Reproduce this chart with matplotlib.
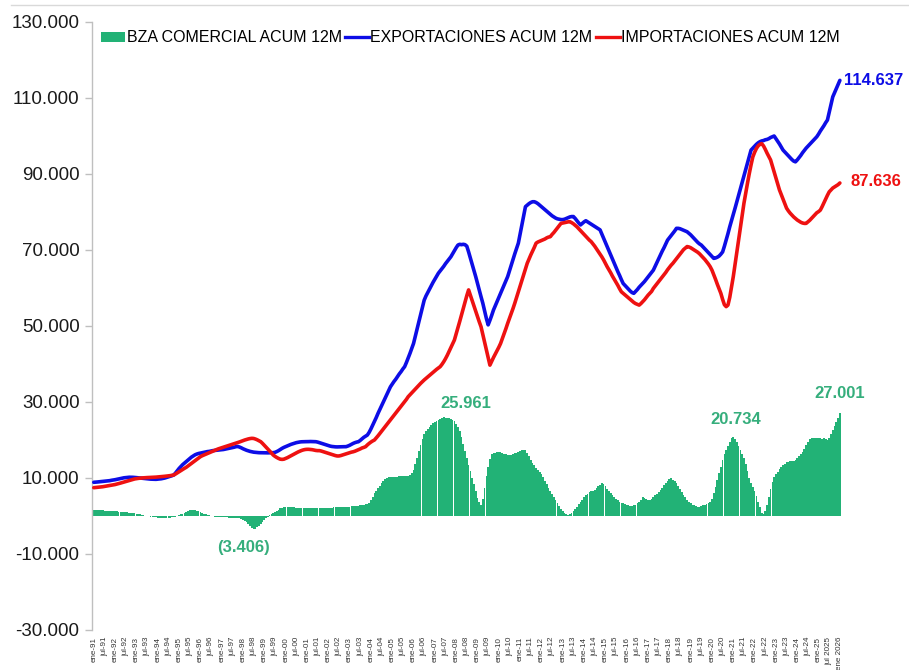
import matplotlib
matplotlib.use('Agg')
import matplotlib.pyplot as plt
from matplotlib import font_manager as fm
from matplotlib.patches import Patch
from matplotlib.lines import Line2D
from matplotlib.ticker import FuncFormatter
import numpy as np

# ---------------- data (US$ millones, acumulado 12 meses, ene-1991 .. ene-2026) ----------------
exports = [
    8870, 8900, 8950, 9000, 9050, 9100, 9150, 9200, 9250, 9300, 9400, 9470,          # 1991
    9550, 9650, 9750, 9850, 9950, 10050, 10100, 10150, 10200, 10200, 10180, 10150,   # 1992
    10100, 10050, 10000, 9950, 9900, 9850, 9800, 9750, 9700, 9680, 9650, 9650,       # 1993
    9700, 9750, 9800, 9900, 10000, 10150, 10300, 10450, 10600, 10790, 11300, 11900,  # 1994
    12500, 13000, 13500, 13900, 14300, 14700, 15100, 15500, 15800, 16100, 16300, 16450,  # 1995
    16550, 16650, 16750, 16850, 16950, 17000, 17100, 17200, 17250, 17300, 17350, 17400,  # 1996
    17450, 17500, 17600, 17700, 17800, 17900, 18000, 18100, 18240, 18300, 18150, 17950,  # 1997
    17700, 17500, 17300, 17150, 17000, 16900, 16800, 16750, 16700, 16660, 16650, 16640,  # 1998
    16620, 16600, 16620, 16640, 16650, 16660, 16750, 16950, 17200, 17500, 17800, 18050,  # 1999
    18240, 18450, 18650, 18850, 19000, 19150, 19300, 19400, 19480, 19530, 19550, 19560,  # 2000
    19560, 19580, 19600, 19580, 19560, 19550, 19450, 19300, 19150, 19000, 18850, 18700,  # 2001
    18550, 18400, 18300, 18240, 18200, 18180, 18200, 18220, 18240, 18240, 18240, 18400,  # 2002
    18600, 18850, 19100, 19300, 19450, 19550, 19900, 20300, 20700, 21000, 21300, 22000,  # 2003
    22900, 23900, 24900, 25900, 27000, 28000, 29000, 30000, 31000, 32000, 33000, 34000,  # 2004
    34700, 35400, 36000, 36700, 37400, 38000, 38700, 39300, 40400, 41600, 42800, 44100,  # 2005
    45400, 47300, 49200, 51100, 53000, 54900, 56800, 57900, 58800, 59700, 60600, 61500,  # 2006
    62300, 63100, 63900, 64500, 65100, 65700, 66400, 67000, 67600, 68200, 69000, 69800,  # 2007
    70600, 71300, 71500, 71400, 71500, 71400, 71000, 69500, 67900, 66300, 64700, 63000,  # 2008
    61200, 59500, 57700, 56000, 54000, 52000, 50300, 51500, 52800, 54200, 55300, 56400,  # 2009
    57500, 58600, 59700, 60800, 61900, 63000, 64500, 66000, 67500, 69000, 70400, 71800,  # 2010
    74200, 76600, 79000, 81400, 81800, 82200, 82500, 82700, 82700, 82500, 82200, 81800,  # 2011
    81400, 81000, 80600, 80200, 79800, 79400, 79000, 78700, 78400, 78200, 78100, 78000,  # 2012
    78000, 78100, 78300, 78500, 78700, 78800, 78800, 78300, 77700, 77100, 76600, 77000,  # 2013
    77400, 77700, 77400, 77100, 76800, 76500, 76200, 75900, 75600, 75300, 74200, 73100,  # 2014
    72000, 70900, 69800, 68700, 67600, 66500, 65400, 64300, 63300, 62200, 61200, 60700,  # 2015
    60200, 59700, 59200, 58800, 58600, 59100, 59600, 60200, 60700, 61200, 61700, 62300,  # 2016
    62900, 63500, 64100, 64700, 65700, 66700, 67700, 68700, 69700, 70600, 71600, 72600,  # 2017
    73200, 73800, 74400, 75000, 75700, 75700, 75600, 75400, 75200, 75000, 74800, 74400,  # 2018
    74000, 73500, 73000, 72500, 72000, 71600, 71300, 70800, 70300, 69800, 69300, 68800,  # 2019
    68300, 67800, 67900, 68100, 68400, 68900, 69500, 71000, 72600, 74300, 76100, 77700,  # 2020
    79400, 81000, 82700, 84300, 86000, 87800, 89500, 91200, 92900, 94600, 96300, 96800,  # 2021
    97300, 97800, 98200, 98500, 98700, 98800, 99000, 99100, 99300, 99600, 99800, 100000,  # 2022
    99300, 98600, 97900, 97100, 96300, 95800, 95300, 94800, 94300, 93800, 93400, 93200,  # 2023
    93700, 94300, 94900, 95600, 96200, 96800, 97300, 97800, 98300, 98800, 99300, 99800,  # 2024
    100500, 101300, 102000, 102700, 103500, 104200, 106200, 108200, 110300, 111400, 112500, 113600,  # 2025
    114637,  # ene-2026
]

imports = [
    7450, 7500, 7550, 7600, 7650, 7700, 7780, 7860, 7940, 8020, 8090, 8160,          # 1991
    8280, 8400, 8530, 8660, 8800, 8940, 9080, 9220, 9360, 9500, 9650, 9750,          # 1992
    9830, 9900, 9960, 10010, 10050, 10080, 10110, 10140, 10160, 10180, 10200, 10230,  # 1993
    10270, 10310, 10350, 10400, 10450, 10500, 10560, 10620, 10700, 10790, 11050, 11350,  # 1994
    11650, 11950, 12250, 12530, 12800, 13150, 13500, 13850, 14200, 14550, 14900, 15250,  # 1995
    15600, 15850, 16050, 16250, 16450, 16650, 16850, 17050, 17250, 17450, 17650, 17800,  # 1996
    17950, 18100, 18250, 18400, 18550, 18700, 18850, 19000, 19130, 19300, 19480, 19660,  # 1997
    19840, 20000, 20150, 20280, 20380, 20440, 20400, 20250, 20050, 19800, 19550, 19100,  # 1998
    18600, 18100, 17600, 17100, 16600, 16050, 15700, 15400, 15150, 14950, 14900, 14950,  # 1999
    15150, 15350, 15600, 15850, 16100, 16350, 16600, 16850, 17050, 17250, 17400, 17500,  # 2000
    17550, 17550, 17500, 17450, 17350, 17250, 17200, 17200, 17100, 16950, 16800, 16650,  # 2001
    16500, 16350, 16200, 16050, 15900, 15800, 15800, 15900, 16050, 16200, 16350, 16500,  # 2002
    16650, 16800, 16900, 17050, 17250, 17450, 17650, 17900, 18050, 18240, 18700, 19100,  # 2003
    19450, 19750, 20000, 20550, 21100, 21700, 22300, 22900, 23500, 24100, 24700, 25300,  # 2004
    25900, 26500, 27100, 27700, 28300, 28900, 29500, 30100, 30700, 31400, 31900, 32400,  # 2005
    32900, 33400, 33900, 34400, 34900, 35350, 35800, 36200, 36600, 37000, 37400, 37800,  # 2006
    38200, 38600, 38950, 39300, 39900, 40600, 41400, 42300, 43300, 44300, 45300, 46300,  # 2007
    47900, 49500, 51200, 52900, 54600, 56300, 58000, 59500, 58100, 56700, 55300, 53900,  # 2008
    52500, 51100, 49800, 47800, 45800, 43800, 41700, 39700, 40700, 41700, 42600, 43500,  # 2009
    44400, 45400, 46700, 48000, 49300, 50700, 52000, 53300, 54600, 56000, 57500, 59000,  # 2010
    60500, 62000, 63500, 65000, 66500, 67600, 68700, 69700, 70700, 71800, 72100, 72300,  # 2011
    72500, 72700, 72900, 73200, 73400, 73500, 74100, 74600, 75200, 75800, 76400, 77000,  # 2012
    77100, 77200, 77300, 77400, 77450, 77200, 76900, 76500, 76100, 75600, 75100, 74600,  # 2013
    74100, 73600, 73100, 72600, 72200, 71600, 71000, 70300, 69600, 68900, 68200, 67400,  # 2014
    66500, 65600, 64800, 64000, 63100, 62300, 61500, 60700, 59800, 59000, 58600, 58200,  # 2015
    57800, 57400, 57000, 56600, 56200, 55900, 55700, 55500, 55900, 56400, 56900, 57500,  # 2016
    58100, 58600, 59100, 59900, 60500, 61100, 61700, 62300, 62900, 63500, 64100, 64800,  # 2017
    65400, 66000, 66500, 67100, 67700, 68300, 68900, 69500, 70100, 70500, 70900, 70800,  # 2018
    70600, 70300, 70000, 69700, 69400, 69000, 68500, 68000, 67500, 66900, 66300, 65600,  # 2019
    64700, 63500, 62300, 61000, 59800, 58600, 57000, 55600, 55100, 55500, 57500, 60200,  # 2020
    63000, 66200, 69500, 72800, 76000, 79200, 82300, 85000, 87600, 90100, 92400, 94500,  # 2021
    95700, 96700, 97400, 97800, 98000, 97400, 96500, 95500, 94600, 93700, 92100, 90500,  # 2022
    88900, 87400, 85800, 84600, 83400, 82200, 81000, 80300, 79700, 79200, 78700, 78300,  # 2023
    77900, 77600, 77300, 77100, 77000, 77000, 77400, 77800, 78300, 78800, 79300, 79800,  # 2024
    80100, 80500, 81400, 82400, 83400, 84400, 85300, 85800, 86300, 86600, 86900, 87200,  # 2025
    87636,  # ene-2026
]

balance = [
    1450, 1480, 1500, 1480, 1460, 1450, 1430, 1400, 1380, 1350, 1330, 1300,          # 1991
    1260, 1220, 1180, 1140, 1100, 1050, 1000, 950, 880, 810, 740, 670,               # 1992
    600, 500, 400, 300, 200, 100, 0, -100, -180, -250, -300, -350,                    # 1993
    -400, -430, -450, -460, -470, -460, -450, -400, -330, -250, -150, 0,             # 1994
    200, 400, 600, 900, 1150, 1400, 1550, 1600, 1600, 1500, 1350, 1200,               # 1995
    1000, 800, 600, 450, 300, 150, 0, -100, -200, -250, -300, -350,                   # 1996
    -300, -320, -350, -380, -400, -420, -450, -480, -500, -550, -650, -800,          # 1997
    -1000, -1300, -1700, -2200, -2700, -3100, -3406, -3300, -3000, -2600, -2100, -1600,  # 1998
    -1100, -650, -250, 150, 500, 800, 1100, 1400, 1700, 2000, 2200, 2350,            # 1999
    2400, 2450, 2400, 2350, 2300, 2250, 2200, 2150, 2100, 2100, 2100, 2100,           # 2000
    2100, 2100, 2100, 2100, 2100, 2100, 2050, 2000, 2000, 2000, 2000, 2050,           # 2001
    2100, 2150, 2200, 2250, 2300, 2300, 2350, 2350, 2400, 2400, 2400, 2450,           # 2002
    2500, 2550, 2600, 2650, 2650, 2700, 2800, 2900, 3000, 3100, 3200, 3300,           # 2003
    4200, 5100, 6000, 6700, 7400, 8000, 8600, 9200, 9700, 10000, 10200, 10300,        # 2004
    10300, 10300, 10300, 10350, 10400, 10450, 10500, 10550, 10600, 10650, 10800, 11400,  # 2005
    12000, 13700, 15300, 17000, 18600, 20200, 21700, 22400, 23000, 23500, 24000, 24400,  # 2006
    24700, 25000, 25300, 25600, 25800, 25961, 25900, 25800, 25700, 25500, 25300, 25000,  # 2007
    24300, 23500, 22300, 20800, 19000, 17000, 15200, 13500, 11800, 10000, 8300, 6500,    # 2008
    4800, 3600, 3000, 4500, 7500, 10500, 13000, 15000, 16300, 16500, 16700, 16800,       # 2009
    16900, 16800, 16600, 16400, 16200, 16100, 16000, 16100, 16300, 16500, 16700, 16900,  # 2010
    17100, 17300, 17500, 17300, 16600, 15700, 14700, 14000, 13300, 12700, 12200, 11700,  # 2011
    11000, 10200, 9300, 8400, 7500, 6700, 5900, 5000, 4200, 3400, 2600, 1800,            # 2012
    1200, 700, 400, 300, 400, 800, 1300, 1900, 2500, 3100, 3700, 4300,                   # 2013
    5000, 5400, 5800, 6200, 6500, 6700, 6900, 7300, 7800, 8200, 8600, 8300,              # 2014
    7800, 7200, 6600, 6000, 5500, 5000, 4600, 4200, 3800, 3500, 3300, 3100,              # 2015
    2900, 2800, 2700, 2750, 2800, 3000, 3300, 3700, 4300, 5000, 4800, 4500,              # 2016
    4200, 4300, 4600, 5000, 5400, 5900, 6400, 6900, 7500, 8100, 8700, 9300,              # 2017
    9700, 9900, 9600, 9200, 8600, 7900, 7100, 6300, 5600, 4900, 4300, 3800,              # 2018
    3300, 3000, 2800, 2600, 2500, 2500, 2600, 2800, 3000, 3200, 3300, 3600,              # 2019
    4500, 6000, 7700, 9400, 11200, 13000, 14800, 16300, 17400, 18500, 19500, 20400,      # 2020
    20734, 20300, 19500, 18500, 17500, 16400, 15200, 13700, 11800, 10000, 8700, 7700,    # 2021
    6500, 5200, 3800, 2300, 800, 400, 1200, 2800, 5000, 7200, 9000, 10300,               # 2022
    11000, 11700, 12300, 12800, 13300, 13800, 14100, 14300, 14400, 14500, 14600, 14700,  # 2023
    15200, 15700, 16200, 16800, 17700, 18600, 19500, 20200, 20400, 20500, 20600, 20500,  # 2024
    20500, 20400, 20300, 20400, 20200, 20000, 20500, 21500, 22700, 23800, 24800, 25800,  # 2025
    27001,  # ene-2026
]

series_names = ["BZA COMERCIAL ACUM 12M", "EXPORTACIONES ACUM 12M", "IMPORTACIONES ACUM 12M"]

tick_labels = []
for yr in range(1991, 2026):
    yy = f"{yr % 100:02d}"
    tick_labels.append(f"ene-{yy}")
    tick_labels.append("jul 2025" if yr == 2025 else f"jul-{yy}")
tick_labels.append("ene 2026")

y_ticks = list(range(-30000, 130001, 20000))

# ---------------- style ----------------
names = {f.name for f in fm.fontManager.ttflist}
NARROW = 'Liberation Sans Narrow' if 'Liberation Sans Narrow' in names else 'Liberation Sans'
BOLD_FONT = 'Liberation Sans' if 'Liberation Sans' in names else 'DejaVu Sans'
plt.rcParams['font.family'] = [NARROW, 'DejaVu Sans']

GREEN = '#22B276'
GREEN_TXT = '#35AE7C'
BLUE = '#0D0DE6'
RED = '#EE1111'

fig = plt.figure(figsize=(9.09, 6.70), dpi=100)
ax = fig.add_axes([92 / 909, 40 / 670, 750 / 909, 608 / 670])

x = np.arange(len(exports))
ax.bar(x, balance, width=0.96, color=GREEN, linewidth=0, zorder=1)
ax.plot(x, exports, color=BLUE, lw=2.6, zorder=3, solid_capstyle='round')
ax.plot(x, imports, color=RED, lw=2.6, zorder=3, solid_capstyle='round')

ax.set_xlim(-1, 421.2)
ax.set_ylim(-30000, 130000)

for s in ['top', 'right', 'bottom']:
    ax.spines[s].set_visible(False)
ax.spines['left'].set_color('#BFBFBF')
ax.spines['left'].set_linewidth(1.0)

ax.set_yticks(y_ticks)
ax.yaxis.set_major_formatter(FuncFormatter(lambda v, p: f"{v:,.0f}".replace(',', '.')))
ax.tick_params(axis='y', length=5, width=1, color='#BFBFBF', labelsize=13.5, pad=4, labelcolor='#1a1a1a')

ax.set_xticks(np.arange(0, len(exports), 6))
ax.set_xticklabels(tick_labels, rotation=90, fontsize=5.8, color='#333333')
ax.tick_params(axis='x', length=0, pad=5)

# ---------------- annotations ----------------
last = len(exports) - 1
fmt = lambda v: f"{v:,.0f}".replace(',', '.')
ax.annotate(fmt(exports[last]), (last, exports[last]), xytext=(4, 0), textcoords='offset pixels',
            ha='left', va='center', color=BLUE, fontsize=12, fontweight='bold', family=BOLD_FONT)
ax.annotate(fmt(imports[last]), (last, imports[last]), xytext=(11, 1), textcoords='offset pixels',
            ha='left', va='center', color=RED, fontsize=12, fontweight='bold', family=BOLD_FONT)

i_max1 = balance.index(25961)
i_max2 = balance.index(20734)
i_min = balance.index(min(balance))
green_kw = dict(textcoords='offset pixels', ha='center', va='center', color=GREEN_TXT,
                fontsize=12, fontweight='bold', family=BOLD_FONT)
ax.annotate(fmt(balance[i_max1]), (i_max1, balance[i_max1]), xytext=(22, 14), **green_kw)
ax.annotate(fmt(balance[i_max2]), (i_max2, balance[i_max2]), xytext=(2, 18), **green_kw)
ax.annotate(fmt(balance[last]), (last, balance[last]), xytext=(0, 20), **green_kw)
ax.annotate(f"({fmt(-balance[i_min])})", (i_min, balance[i_min]), xytext=(-10, -19), **green_kw)

# ---------------- legend ----------------
handles = [Patch(facecolor=GREEN, edgecolor='none'),
           Line2D([], [], color=BLUE, lw=2.4),
           Line2D([], [], color=RED, lw=2.4)]
leg = ax.legend(handles, series_names, loc='center left', bbox_to_anchor=(101 / 909, 1 - 38 / 670),
                bbox_transform=fig.transFigure, ncol=3, frameon=False, fontsize=11.5,
                handlelength=1.5, handleheight=0.6, handletextpad=0.1, columnspacing=0.2,
                borderpad=0, borderaxespad=0)

fig.add_artist(Line2D([0.012, 1.0], [0.992, 0.992], transform=fig.transFigure, color='#D9D9D9', lw=1))

fig.savefig('out.png', dpi=100)
